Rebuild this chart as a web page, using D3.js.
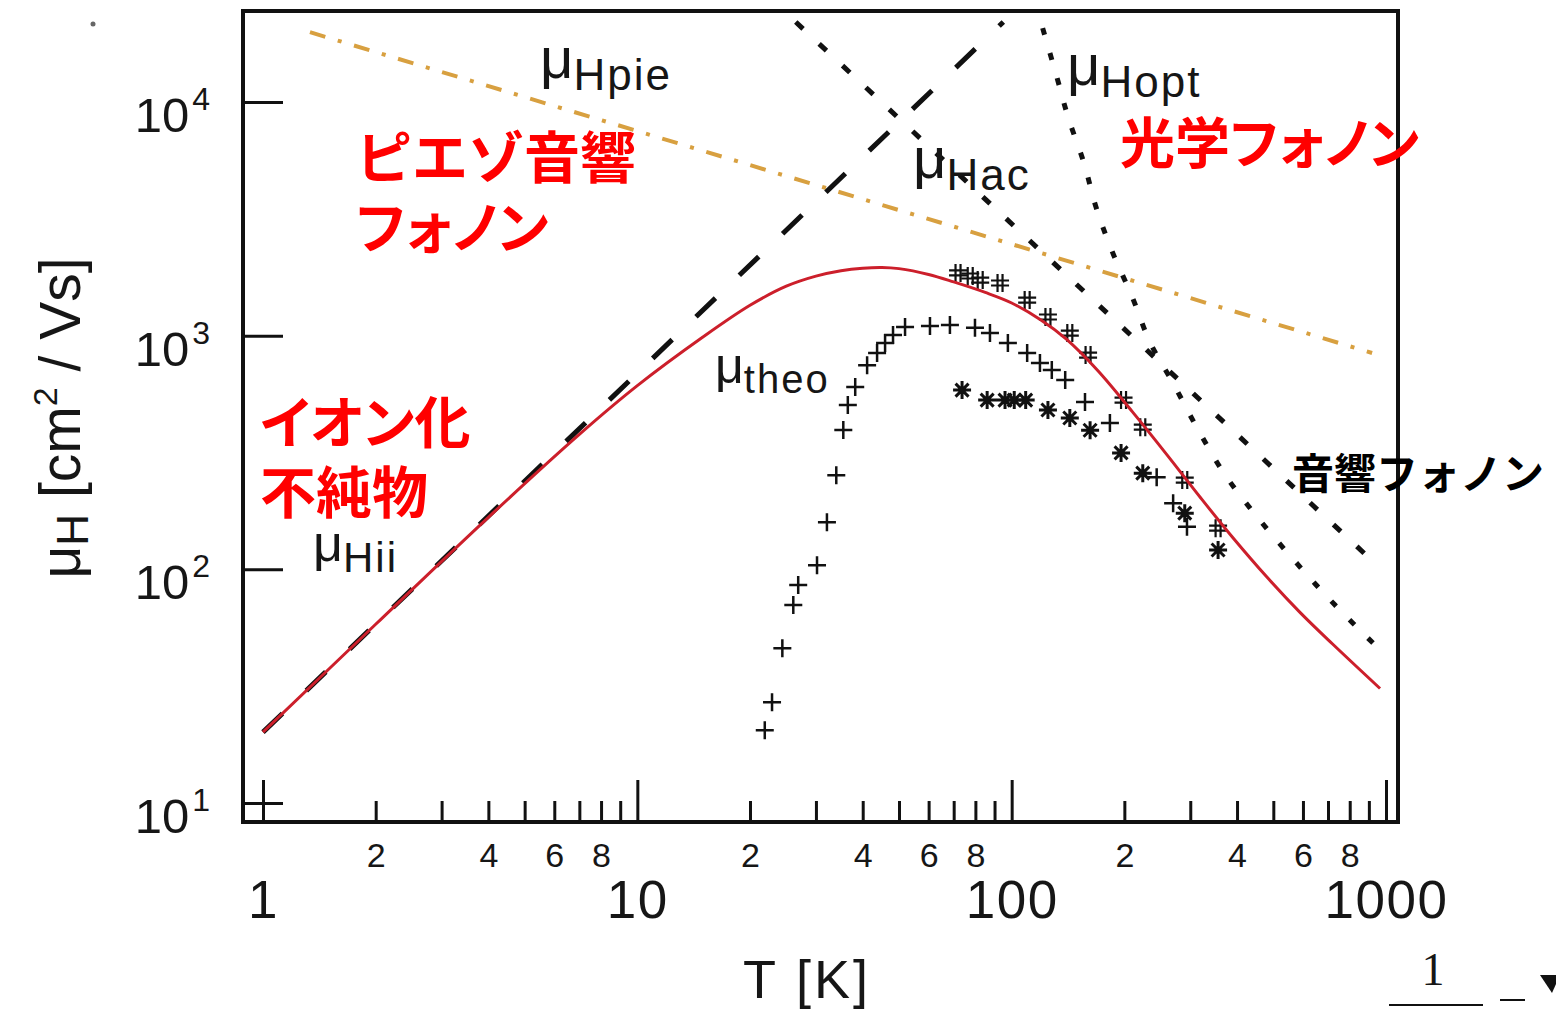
<!DOCTYPE html>
<html>
<head>
<meta charset="utf-8">
<script src="https://cdn.jsdelivr.net/npm/d3@7"></script>
<style>
  body { margin: 0; background: #fff; }
  svg { display: block; }
  text { font-family: "Liberation Sans", Arial, sans-serif; fill: #161616; }
  .jp { font-family: "Noto Sans CJK JP", sans-serif; font-weight: 700; }
  .palt { font-feature-settings: "palt" 1; }
</style>
</head>
<body>
<svg id="chart" width="1556" height="1010"></svg>
<script>
// ---- data ----
// axis ticks
const xMajorTicks = [1, 10, 100, 1000];
const xMinorTicks = [2, 3, 4, 5, 6, 7, 8, 9,
                     20, 30, 40, 50, 60, 70, 80, 90,
                     200, 300, 400, 500, 600, 700, 800, 900];
const xMinorLabelled = [2, 4, 6, 8];
const yTicks = [10, 100, 1000, 10000];

// power-law limits (straight in log-log): [T, mu]
const hiiLine = [[1, 20.1], [95, 22000]];
const pieLine = [[1.335, 19900], [918, 843]];
const acLine = [[26.5, 22000], [880, 116]];

// optical phonon limit
const optT = [121, 132, 141.5, 156, 168, 185, 210, 234, 270, 315, 372, 455, 578, 731, 953];
const optMu = [20700, 12800, 8610, 5480, 3550, 2320, 1462, 940, 625, 395, 253, 166, 106, 70.3, 46];

// total theoretical mobility (red)
const theoT = [1, 2, 4, 7, 10, 15, 20, 25, 30, 35, 40, 45, 50, 60, 70, 85, 100,
               120, 140, 170, 210, 260, 320, 390, 480, 590, 720, 964];
const theoMu = [20.1, 58.2, 167, 378, 611, 989, 1349, 1629, 1799, 1897, 1945, 1959, 1936, 1828, 1698, 1531, 1380,
                1164, 966, 708, 473, 309, 202, 136.5, 92.9, 65.3, 47.9, 30.9];

// measured points
const plusT = [21.9, 22.9, 24.4, 26.1, 26.9, 30.2, 32.1, 34.0, 35.5, 36.5, 38.2, 41.1, 43.7, 45.9, 48.2, 51.9,
               60.5, 68.4, 79.8, 87.5, 97.7, 110, 119, 128, 139, 157, 183, 244, 270, 294];
const plusMu = [20.5, 27.0, 46.0, 70.3, 85.7, 104, 159, 253, 395, 505, 603, 748, 843, 930, 1007, 1090,
                1100, 1110, 1080, 1026, 930, 843, 764, 713, 646, 520, 423, 248, 192, 152];
const hashT = [71.9, 77.5, 82.4, 93.1, 110, 125, 143, 160, 199, 224, 290, 356];
const hashMu = [1855, 1800, 1730, 1680, 1420, 1202, 1026, 826, 530, 406, 241, 150];
const starT = [73.7, 86, 96, 101.6, 109, 125, 143, 162, 196, 224, 290, 356];
const starMu = [585, 530, 530, 530, 530, 481, 444, 394, 315, 258, 174, 121];

// ---- layout ----
const frame = { left: 243, right: 1398, top: 11, bottom: 822 };
const svg = d3.select("#chart");

const x = d3.scaleLog().domain([1, 1000]).range([263, 1386]);
const y = d3.scaleLog().domain([10, 10000]).range([803, 102]);

const zip = (a, b) => a.map((v, i) => [v, b[i]]);
const line = d3.line().x(d => x(d[0])).y(d => y(d[1]));
const smooth = d3.line().x(d => x(d[0])).y(d => y(d[1])).curve(d3.curveCatmullRom.alpha(0.5));

// frame
svg.append("rect")
    .attr("x", frame.left).attr("y", frame.top)
    .attr("width", frame.right - frame.left)
    .attr("height", frame.bottom - frame.top)
    .attr("fill", "none").attr("stroke", "#111").attr("stroke-width", 4);

// x axis, minor ticks
const gxMinor = svg.append("g")
    .attr("transform", "translate(0," + frame.bottom + ")")
    .call(d3.axisBottom(x).tickValues(xMinorTicks).tickSize(-21).tickPadding(21)
        .tickFormat(d => {
            const lead = Math.round(d / Math.pow(10, Math.floor(Math.log10(d) + 1e-9)));
            return xMinorLabelled.includes(lead) ? String(lead) : "";
        }));
gxMinor.select(".domain").remove();
gxMinor.attr("font-size", 34).attr("font-family", "Liberation Sans, Arial, sans-serif");
gxMinor.selectAll("line").attr("stroke", "#111").attr("stroke-width", 3);
gxMinor.selectAll("text").attr("fill", "#161616");

// x axis, major ticks
const gxMajor = svg.append("g")
    .attr("transform", "translate(0," + frame.bottom + ")")
    .call(d3.axisBottom(x).tickValues(xMajorTicks).tickSize(-42).tickPadding(58)
        .tickFormat(d3.format("d")));
gxMajor.select(".domain").remove();
gxMajor.attr("font-size", 53).attr("font-family", "Liberation Sans, Arial, sans-serif");
gxMajor.selectAll("line").attr("stroke", "#111").attr("stroke-width", 3);
gxMajor.selectAll("text").attr("fill", "#161616").attr("letter-spacing", 1.5);

// y axis
const gy = svg.append("g")
    .attr("transform", "translate(" + frame.left + ",0)")
    .call(d3.axisLeft(y).tickValues(yTicks).tickSize(-40).tickPadding(33).tickFormat(""));
gy.select(".domain").remove();
gy.attr("font-size", 49).attr("font-family", "Liberation Sans, Arial, sans-serif");
gy.selectAll("line").attr("stroke", "#111").attr("stroke-width", 3);
gy.selectAll(".tick text")
    .attr("dy", "0.6em").attr("fill", "#161616")
    .each(function (d) {
        const t = d3.select(this);
        t.text(null);
        t.append("tspan").text("10");
        t.append("tspan").attr("font-size", 32).attr("dx", 3).attr("dy", -22)
            .text(Math.round(Math.log10(d)));
    });

// axis titles
const yTitle = svg.append("text")
    .attr("transform", "translate(80,418) rotate(-90)")
    .attr("text-anchor", "middle")
    .attr("font-size", 57);
yTitle.append("tspan").text("μ");
yTitle.append("tspan").attr("font-size", 44).attr("dy", 8).text("H");
yTitle.append("tspan").attr("dy", -8).text(" [cm");
yTitle.append("tspan").attr("font-size", 34).attr("dy", -23).text("2");
yTitle.append("tspan").attr("dy", 23).text(" / Vs]");

svg.append("text")
    .attr("x", 807).attr("y", 998)
    .attr("text-anchor", "middle")
    .attr("font-size", 54)
    .attr("letter-spacing", 3)
    .text("T [K]");

// limit lines
svg.append("path").datum(pieLine)
    .attr("d", line).attr("fill", "none")
    .attr("stroke", "#d8a040").attr("stroke-width", 4)
    .attr("stroke-dasharray", "16,13,4,13");

svg.append("path").datum(acLine)
    .attr("d", line).attr("fill", "none")
    .attr("stroke", "#111").attr("stroke-width", 5)
    .attr("stroke-dasharray", "10,22");

svg.append("path").datum(zip(optT, optMu))
    .attr("d", smooth).attr("fill", "none")
    .attr("stroke", "#111").attr("stroke-width", 5)
    .attr("stroke-dasharray", "7,19");

svg.append("path").datum(hiiLine)
    .attr("d", line).attr("fill", "none")
    .attr("stroke", "#111").attr("stroke-width", 5)
    .attr("stroke-dasharray", "27,33");

// measured points
const markers = {
    plus: "M-9,0H9M0,-9V9",
    hash: "M-9,-2.5H9M-9,2.5H9M-2.5,-9V9M2.5,-9V9",
    star: "M-9,0H9M0,-9V9M-6.5,-6.5L6.5,6.5M-6.5,6.5L6.5,-6.5"
};
function drawMarkers(pts, shape, width) {
    svg.append("g").selectAll("path")
        .data(pts).enter()
        .append("path")
        .attr("transform", d => "translate(" + x(d[0]) + "," + y(d[1]) + ")")
        .attr("d", markers[shape])
        .attr("fill", "none").attr("stroke", "#111").attr("stroke-width", width);
}
drawMarkers(zip(plusT, plusMu), "plus", 2.5);
drawMarkers(zip(hashT, hashMu), "hash", 2.2);
drawMarkers(zip(starT, starMu), "star", 3);

// theory curve
svg.append("path").datum(zip(theoT, theoMu))
    .attr("d", smooth).attr("fill", "none")
    .attr("stroke", "#cc1f2b").attr("stroke-width", 3);

// mu labels: mu's descender sits on the subscript baseline
function muLabel(x0, base, sub, muSize, subSize) {
    const t = svg.append("text")
        .attr("x", x0).attr("y", base - 0.21 * muSize)
        .attr("font-size", muSize);
    t.append("tspan").text("μ");
    t.append("tspan").attr("font-size", subSize).attr("dy", 0.21 * muSize)
        .attr("letter-spacing", 2).text(sub);
}
muLabel(540, 90, "Hpie", 58, 44);
muLabel(913, 190, "Hac", 58, 44);
muLabel(1067, 97, "Hopt", 58, 44);
muLabel(313, 572, "Hii", 52, 42);
muLabel(715, 393, "theo", 50, 40);

// Japanese annotations; a two-line label is one text with one tspan per line
function jp(x0, base, lines, size, color, palt, lineGap) {
    const t = svg.append("text").attr("class", "jp")
        .attr("x", x0).attr("y", base)
        .attr("font-size", size)
        .style("fill", color);
    lines.forEach((str, i) => {
        t.append("tspan")
            .attr("x", x0).attr("dy", i === 0 ? 0 : lineGap)
            .attr("class", palt[i] ? "palt" : null)
            .text(str);
    });
}
jp(356, 178, ["ピエゾ音響", "フォノン"], 56, "#ff0000", [false, true], 70);
jp(1120, 163, ["光学フォノン"], 55, "#ff0000", [true], 0);
jp(260, 443, ["イオン化", "不純物"], 56, "#ff0000", [true, false], 70);
jp(1292, 489, ["音響フォノン"], 42, "#000", [false], 0);

// page remnants at the bottom right
svg.append("text")
    .attr("x", 1433).attr("y", 985)
    .attr("text-anchor", "middle")
    .attr("font-size", 46)
    .style("font-family", "Liberation Serif, serif")
    .text("1");
svg.append("line").attr("x1", 1389).attr("x2", 1483).attr("y1", 1005).attr("y2", 1005)
    .attr("stroke", "#111").attr("stroke-width", 2);
svg.append("line").attr("x1", 1500).attr("x2", 1525).attr("y1", 1000).attr("y2", 1000)
    .attr("stroke", "#111").attr("stroke-width", 2);
svg.append("path").attr("d", "M1540,975L1560,975L1552,993Z").attr("fill", "#111");
svg.append("circle").attr("cx", 93).attr("cy", 24).attr("r", 2.5).attr("fill", "#666");
</script>
</body>
</html>
